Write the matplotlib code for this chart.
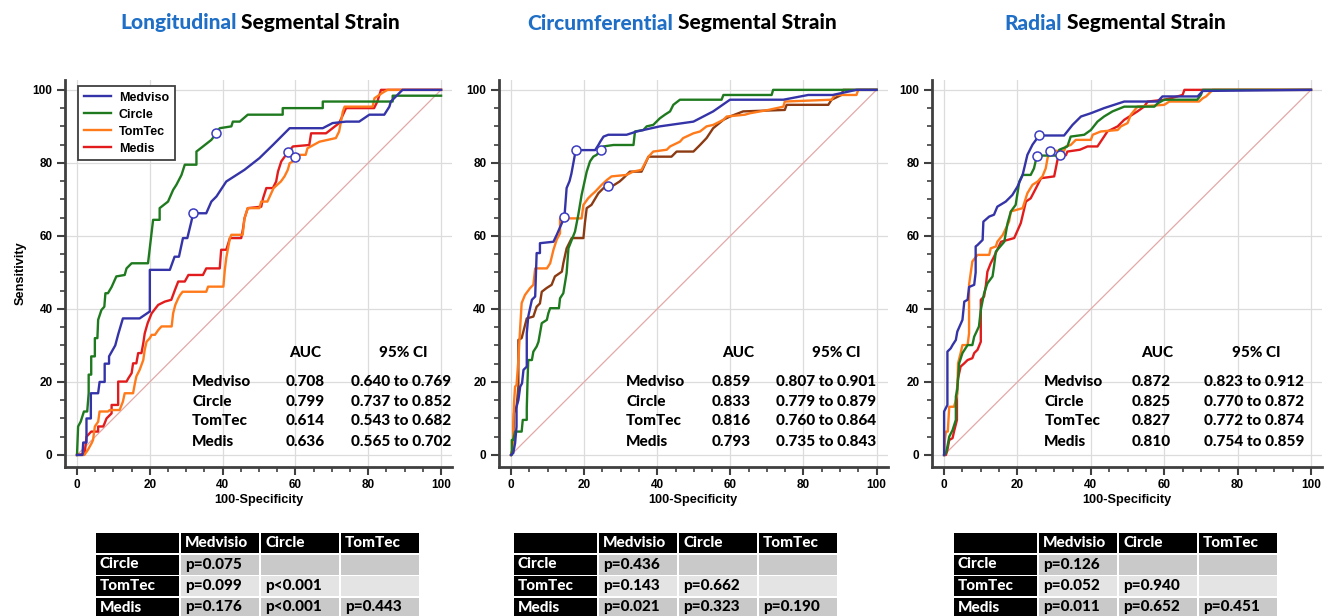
import matplotlib
matplotlib.use("Agg")
import matplotlib.pyplot as plt
from matplotlib.patches import Rectangle
from matplotlib.ticker import MultipleLocator

# ---------------------------------------------------------------------------
# data
# ---------------------------------------------------------------------------
METHODS = ["Medviso", "Circle", "TomTec", "Medis"]
TITLE_FIRST = ["Longitudinal", "Circumferential", "Radial"]
TITLE_REST = " Segmental Strain"

AUC = [
    ["0.708", "0.799", "0.614", "0.636"],
    ["0.859", "0.833", "0.816", "0.793"],
    ["0.872", "0.825", "0.827", "0.810"],
]
CI = [
    ["0.640 to 0.769", "0.737 to 0.852", "0.543 to 0.682", "0.565 to 0.702"],
    ["0.807 to 0.901", "0.779 to 0.879", "0.760 to 0.864", "0.735 to 0.843"],
    ["0.823 to 0.912", "0.770 to 0.872", "0.772 to 0.874", "0.754 to 0.859"],
]

TABLE_COLS = ["Medvisio", "Circle", "TomTec"]
TABLE_ROWS = ["Circle", "TomTec", "Medis"]
LONG_P = [["p=0.075", "", ""], ["p=0.099", "p<0.001", ""], ["p=0.176", "p<0.001", "p=0.443"]]
CIRC_P = [["p=0.436", "", ""], ["p=0.143", "p=0.662", ""], ["p=0.021", "p=0.323", "p=0.190"]]
RAD_P = [["p=0.126", "", ""], ["p=0.052", "p=0.940", ""], ["p=0.011", "p=0.652", "p=0.451"]]

# ROC curves, 100-specificity (x) vs sensitivity (y)
long_medviso_x = [0, 1.5, 1.7, 2.6, 2.6, 3.8, 3.8, 5.8, 6.2, 7.6, 7.6, 8.8, 8.8, 10.5, 11.3, 12.6, 17.2, 20, 20,
                  25.5, 26.8, 28, 29.1, 30.3, 31.4, 31.9, 35.5, 36.9, 38.3, 41, 46, 50.1, 53.8, 58.4, 67.5, 70.2,
                  73.9, 77.5, 80.3, 84.4, 85.8, 86.2, 89.4, 100]
long_medviso_y = [0, 0, 3.4, 3.4, 10, 10, 16.9, 16.9, 20, 20, 25, 25, 27, 30, 33, 37.4, 37.4, 39.3, 50.7,
                  50.7, 54.3, 54.3, 59.4, 59.4, 63.9, 66.2, 66.2, 69.4, 70.8, 74.9, 78.1, 81.3, 84.9, 89.5, 89.5, 90.9,
                  91.3, 91.3, 93.2, 93.2, 95.4, 96.8, 100, 100]
long_circle_x = [0, 0.3, 1, 1.9, 2.8, 3.2, 3.2, 3.9, 3.9, 4.9, 4.9, 5.6, 5.8, 6.7, 7.5, 7.8, 8.5, 9.5, 10.8, 13.1,
                 13.6, 15, 19.5, 20.9, 22.7, 22.7, 25, 26.4, 27.3, 28.7, 29.6, 32.8, 32.8, 34.6, 36.9, 38.3, 39.2,
                 42.4, 42.8, 44.7, 46.9, 56.5, 56.5, 67.5, 67.5, 86.7, 86.7, 100]
long_circle_y = [0, 7.8, 9.1, 11.9, 11.9, 16.9, 22, 22, 27, 27, 32, 32, 37, 39.7, 40.6, 44.3, 44.3, 46, 48.9, 49.3,
                 51.1, 52.5, 52.5, 64.4, 64.4, 67.6, 69.4, 72.6, 74, 76.7, 79.5, 79.5, 83.1, 84.5, 86.3, 88.1, 89.5,
                 90, 91.3, 91.3, 93.2, 93.2, 95, 95, 96.8, 96.8, 98.4, 98.4]
long_tomtec_x = [0, 2, 3, 4, 4.4, 4.9, 5.8, 6.2, 8.5, 9, 11.7, 12.6, 13.1, 15.4, 15.9, 16.3, 17.2, 18.2, 18.6, 19.1,
                 20, 20.5, 21.4, 22.3, 23.2, 26, 26.4, 27, 27.8, 28.3, 29, 35.5, 36, 40.2, 40.6, 41, 42, 42.4, 45.5,
                 46, 46.9, 50.1, 50.6, 52.3, 54, 56, 57, 57.9, 58.4, 59.3, 60.2, 62.8, 63.3, 66.6, 71.1, 72, 73,
                 73.5, 81.2, 81.7, 83, 84.4, 85.3, 100]
long_tomtec_y = [0, 0, 1.4, 3.2, 4.1, 7.8, 9.1, 11.9, 11.9, 12.3, 12.3, 14.6, 16.9, 16.9, 19.6, 21.5, 23.3, 26, 28.8,
                 31, 32, 32.9, 32.9, 34.2, 35.2, 35.2, 38.8, 41.1, 42.9, 43.8, 44.7, 44.7, 46.1, 46.1, 50.7, 54,
                 59.4, 60.3, 60.3, 64.8, 67.6, 67.6, 69.4, 69.4, 73.1, 74.9, 76.3, 78.1, 79.9, 80.4, 82.2, 82.2, 84,
                 85.8, 86.8, 88.6, 94, 95.4, 95.4, 97.7, 98.6, 99.5, 100, 100]
long_medis_x = [0, 2.1, 2.6, 3.9, 5.8, 5.8, 7.2, 7.6, 8.1, 9.5, 9.5, 11.3, 11.3, 13.6, 14.1, 15, 15.4, 16.3, 16.8,
                17.7, 18.2, 18.6, 19.4, 20.5, 22.3, 24.1, 25.9, 26.9, 27.8, 29.6, 30.6, 34.6, 35.5, 39.2, 39.6, 41,
                42, 45.1, 45.6, 46, 46.9, 50.6, 51.1, 52, 53.8, 54.7, 55.2, 56.1, 57.4, 59.3, 63.8, 64.3, 68.4, 72,
                73.9, 81.6, 82.5, 83.5, 100]
long_medis_y = [0, 0.3, 5, 6.4, 6.4, 7.8, 7.8, 8.7, 10, 11.4, 13.7, 13.7, 20.1, 20.1, 21, 22.4, 25.1, 25.1, 27.9,
                27.9, 30.6, 33.3, 36.1, 38.8, 41.1, 42, 42.5, 45.2, 47.5, 47.5, 49.3, 49.3, 51.1, 51.1, 56.2, 56.2,
                59.4, 59.4, 62, 64.8, 67.6, 68, 70.3, 73.1, 73.1, 74.9, 77.6, 80.4, 82.2, 84.5, 84.9, 88.1, 88.1,
                90.9, 95, 95, 96.8, 100, 100]

circ_medviso_x = [0, 0.6, 1.1, 1.5, 1.5, 2, 2.5, 3, 3.4, 4.3, 4.3, 4.7, 5.7, 6.6, 7, 7.9, 7.9, 11.6, 12.5, 14.6,
                  15.2, 16, 16.5, 17.7, 23, 23.9, 24.4, 25.3, 26.6, 31.6, 34.4, 40.7, 49.9, 55.3, 59.9, 74.5, 81.3,
                  88, 94.5, 100]
circ_medviso_y = [0, 0.5, 3.2, 7.8, 13.2, 15, 18.7, 19.6, 23.3, 24.2, 33.3, 37.9, 42.5, 43.4, 55.3, 55.3, 58, 58.4,
                  60.3, 65.1, 73.1, 75, 77, 83.5, 83.5, 84.9, 85.8, 87.2, 87.7, 87.7, 88.6, 90, 91.3, 94.1, 97.3,
                  97.3, 98.6, 98.6, 100, 100]
circ_circle_x = [0, 0.2, 0.2, 0.6, 1.1, 2.9, 3.2, 4.3, 4.3, 4.5, 4.7, 5.7, 6.1, 7, 7.5, 8.4, 9.8, 10.2, 10.7, 13.1,
                 13.4, 14.3, 15.2, 15.7, 17.5, 18.4, 19.3, 20.7, 21.6, 22.5, 23.4, 24.6, 25.3, 28, 33.5, 33.9, 36.2,
                 37.1, 38.9, 40.7, 42.1, 43.5, 44.4, 46.2, 57.6, 58.1, 71.3, 71.7, 100]
circ_circle_y = [0, 0, 4.1, 4.1, 6.4, 6.4, 9.6, 9.6, 12.8, 20, 26, 26, 28.3, 29.7, 31, 36.1, 37, 38.8, 40.2, 40.2,
                 42.9, 44.3, 49.8, 56.6, 61.2, 65.8, 71.2, 77.6, 80.4, 81.7, 82.2, 83.5, 84.5, 84.9, 84.9, 88.6,
                 89, 90, 90.4, 92.2, 93.2, 94.1, 95.9, 97.3, 97.3, 98.6, 98.6, 100, 100]
circ_tomtec_x = [0, 0.6, 0.6, 0.8, 1.1, 1.5, 2, 2.5, 2.9, 3.8, 5.2, 6.1, 6.6, 9.8, 10.7, 11.6, 12.5, 13.4, 13.4,
                 19.3, 19.8, 21.1, 22, 23, 24.8, 26.2, 27.5, 31.6, 33.4, 35.7, 37.6, 38.9, 42.6, 43.5, 46.2, 47.1,
                 49.9, 51.7, 53.5, 55.3, 58.1, 59, 64, 65.4, 70.4, 74.5, 74.9, 87.7, 88.6, 94.5, 95, 100]
circ_tomtec_y = [0, 2.3, 8, 14.2, 18.7, 19.2, 26, 35, 41.6, 43.8, 45.7, 46.6, 51.1, 51.1, 52.5, 56.2, 59, 60.7,
                 64.8, 64.8, 68.5, 70.3, 71.2, 72.1, 74, 75.3, 76.3, 76.7, 77.6, 78.1, 81.7, 83.1, 83.6, 84.5, 85.8,
                 86.8, 88.1, 88.6, 90, 90.4, 91.8, 92.7, 93.2, 93.6, 94.5, 95.4, 96.8, 97.3, 98.6, 98.6, 100, 100]
circ_medis_x = [0, 0.6, 0.8, 1.5, 2, 2, 2.9, 4.3, 6.1, 7, 7.9, 8.4, 9.7, 11.1, 12, 13.9, 14.3, 15.2, 16.6, 19.8,
                20.2, 20.7, 22, 23.9, 25.3, 27.5, 29.7, 30.7, 32.5, 35.7, 37.6, 43.9, 45.3, 49.9, 51.7, 53.5, 55.3,
                58.1, 59.9, 63.5, 74.9, 75.4, 86.8, 87.7, 90.4, 90.9, 100]
circ_medis_y = [0, 2.3, 11.4, 13.2, 18.7, 31.5, 32, 37.4, 37.9, 40.6, 41.5, 44.7, 45.7, 46.6, 48.9, 50.2, 52.5,
                56.6, 59.4, 59.4, 63.5, 67.6, 68.5, 71.7, 73.1, 73.5, 74.9, 75.8, 77.6, 77.6, 81.7, 81.7, 83.1,
                83.1, 84.9, 86.8, 89.5, 91.8, 92.7, 94.1, 94.5, 95.9, 95.9, 97.3, 98.6, 100, 100]

rad_medviso_x = [0, 0, 0.9, 0.9, 1.8, 2.3, 3.2, 3.6, 5, 5.5, 6.4, 6.8, 8.2, 8.6, 8.6, 9.1, 10.5, 10.7, 12.3, 13.6,
                 14.5, 16.8, 18.6, 20, 21.4, 22.7, 24.1, 25.9, 32.7, 35, 37.3, 40, 43.6, 49.1, 58.2, 59.5, 69.1,
                 70.5, 100]
rad_medviso_y = [0, 11.9, 13.7, 28.3, 29.2, 30.1, 31.5, 33.8, 37, 42, 42.5, 46, 46.6, 50, 57.1, 57.5, 58.9, 63.9,
                 65.3, 65.8, 68, 69.4, 71.2, 73.5, 76.7, 82.2, 85, 87.5, 87.5, 90.4, 92.7, 93.6, 95, 96.8, 96.8,
                 98.2, 98.2, 99.7, 100]
rad_circle_x = [0, 0.5, 0.9, 1.4, 2.3, 3.2, 3.2, 3.6, 4.1, 5, 6.4, 7.7, 8.2, 9.5, 10, 10.9, 11.8, 13.2, 13.6, 14.1,
                16.4, 17.3, 18.2, 19.5, 20.5, 21.4, 23.6, 24.5, 25.3, 30.9, 31.4, 33.6, 34.5, 38.2, 40, 41.8, 43.6,
                45.9, 49.1, 57.3, 58.2, 60, 69, 70, 70.5, 100]
rad_circle_y = [0, 0.5, 2.3, 5, 6.8, 9.6, 16, 18, 25.1, 27.9, 30.1, 30.1, 32.4, 35.2, 39.7, 44.3, 47, 48.9, 51.6,
                55.7, 58.4, 63.5, 66.7, 68.5, 74.9, 76.7, 76.7, 78.5, 82, 82, 83.6, 84.5, 87.2, 87.7, 89, 91.3,
                92.7, 94.1, 95.4, 95.4, 96.3, 97.3, 97.3, 98.6, 100, 100]
rad_tomtec_x = [0, 0.2, 0.5, 1, 1.4, 2.7, 3.2, 3.6, 3.8, 4.5, 5, 6.4, 6.8, 6.8, 7.3, 7.7, 9.1, 12.3, 12.7, 14.1,
                14.5, 16, 17.7, 18.2, 21.4, 22.7, 24.1, 25.5, 26.8, 27.7, 28.2, 28.9, 32.7, 33.2, 34.5, 35.9, 40,
                40.5, 42.7, 47.3, 48.2, 50, 50.9, 52.7, 60, 61.4, 69.5, 70.5, 71.4, 72.3, 73.2, 100]
rad_tomtec_y = [0, 4.1, 6.4, 6.4, 13.2, 13.2, 15, 16.9, 25.1, 27.9, 30.1, 30.1, 33.3, 46.6, 50.2, 53, 54.8, 54.8,
                56.6, 57.1, 58.4, 60.3, 63.9, 66.7, 67.6, 71.7, 74, 74.9, 76.3, 78.5, 81.3, 83.3, 83.3, 84.5, 84.9,
                86.3, 86.3, 87.7, 88.6, 89, 90, 90.9, 93.2, 95.4, 95.9, 96.8, 96.8, 97.7, 98.2, 99.1, 100, 100]
rad_medis_x = [0, 0.5, 0.9, 1.4, 2.3, 2.7, 3.5, 3.5, 3.8, 4.5, 5.5, 6.4, 7.7, 8.2, 9.1, 10, 10, 10.9, 11.4, 11.8,
               12.7, 13.6, 14.5, 15.5, 17.3, 19.1, 19.5, 20.9, 22.3, 23.6, 25, 26.4, 30, 30.9, 31.5, 33.2, 33.6, 37,
               39.1, 41.8, 43.6, 44.5, 47.3, 49.1, 52.7, 54.5, 55.5, 60, 61.8, 65, 65.5, 100]
rad_medis_y = [0, 0, 1.4, 4.1, 4.6, 6.4, 9.6, 17.8, 21, 24.2, 25.1, 26, 26.5, 27.9, 28.8, 31, 42.5, 43.4, 46.6,
               50.2, 52.5, 54.3, 56.2, 58.4, 58.9, 59.4, 60.3, 63.5, 69.4, 70.3, 73, 75.8, 76.3, 80.8, 82.1, 82.1,
               83.1, 83.6, 84.5, 84.5, 87.2, 88.6, 90, 91.8, 94.1, 95.4, 96.8, 97.3, 97.7, 98.6, 100, 100]

# optimal cut-off points (Youden) marked with open circles
long_cut_x = [31.9, 38.3, 57.9, 60.0]
long_cut_y = [66.2, 88.1, 83.1, 81.6]
circ_cut_x = [14.6, 17.7, 24.6, 26.4]
circ_cut_y = [65.1, 83.5, 83.5, 73.7]
rad_cut_x = [25.9, 25.3, 28.9, 31.5]
rad_cut_y = [87.5, 82.0, 83.3, 82.1]

CURVES = [
    [(long_medviso_x, long_medviso_y), (long_circle_x, long_circle_y),
     (long_tomtec_x, long_tomtec_y), (long_medis_x, long_medis_y)],
    [(circ_medviso_x, circ_medviso_y), (circ_circle_x, circ_circle_y),
     (circ_tomtec_x, circ_tomtec_y), (circ_medis_x, circ_medis_y)],
    [(rad_medviso_x, rad_medviso_y), (rad_circle_x, rad_circle_y),
     (rad_tomtec_x, rad_tomtec_y), (rad_medis_x, rad_medis_y)],
]
CUTS = [(long_cut_x, long_cut_y), (circ_cut_x, circ_cut_y), (rad_cut_x, rad_cut_y)]
PVALS = [LONG_P, CIRC_P, RAD_P]

# ---------------------------------------------------------------------------
# style
# ---------------------------------------------------------------------------
CAL = ["Lato", "DejaVu Sans"]
ARIAL = ["Liberation Sans", "DejaVu Sans"]
CAL_W = 900
COLORS = ["#3434a8", "#1f7a1f", "#ff7a1a", "#e21c1c"]
MEDIS_CIRC = "#8b3a12"
TITLE_BLUE = "#1f6fc6"
SPINE = "#404040"

W, H = 1333, 616
AX_LEFT = [65, 499, 932]          # px
AX_WIDTH = [387, 388.5, 390]
AX_TOP, AX_BOTTOM = 80, 467
TITLE_X = [120, 527, 1004]
TABLE_X = [95, 513, 953]
COL_W = [85, 80, 80, 80]
ROW_TOP = [533, 554.5, 576, 597.5]
ROW_H = 20

# column positions of the AUC block (data units)
AUC_COLS = [(31.6, 57.4, 75.3, 62.6, 89.6), (31.5, 55, 72.5, 62, 89), (27.3, 51, 70.9, 58, 85)]
AUC_ROWS_Y = [20.0, 14.6, 9.2, 3.6]
AUC_HEAD_Y = 28.0
AUC_FS = 11

plt.rcParams.update({"font.family": ARIAL, "font.weight": "bold", "axes.labelweight": "bold"})

fig = plt.figure(figsize=(W / 100, H / 100), dpi=100)
over = fig.add_axes([0, 0, 1, 1])
over.set_xlim(0, W)
over.set_ylim(H, 0)
over.axis("off")

for p in range(3):
    ax = fig.add_axes([AX_LEFT[p] / W, (H - AX_BOTTOM) / H, AX_WIDTH[p] / W, (AX_BOTTOM - AX_TOP) / H])
    ax.set_xlim(-3.3, 103)
    ax.set_ylim(-3.3, 102.7)
    for s in ["top", "right"]:
        ax.spines[s].set_visible(False)
    for s in ["left", "bottom"]:
        ax.spines[s].set_color(SPINE)
        ax.spines[s].set_linewidth(2)
    ax.xaxis.set_major_locator(MultipleLocator(20))
    ax.yaxis.set_major_locator(MultipleLocator(20))
    ax.xaxis.set_minor_locator(MultipleLocator(5))
    ax.yaxis.set_minor_locator(MultipleLocator(5))
    ax.tick_params(which="major", length=6, width=1.5, color=SPINE, labelsize=8.5, pad=3)
    ax.tick_params(which="minor", length=3.5, width=1.2, color=SPINE)
    ax.grid(True, which="major", color="#dcdcdc", lw=0.9, zorder=0)
    ax.set_axisbelow(True)
    ax.plot([0, 100], [0, 100], color="#e3a8a8", lw=0.9, zorder=1)

    for i, (cx, cy) in enumerate(CURVES[p]):
        col = COLORS[i]
        if p == 1 and i == 3:
            col = MEDIS_CIRC
        ax.plot(cx, cy, color=col, lw=1.7, label=METHODS[i], zorder=3 + (3 - i) * 0.1)
    ax.plot(CUTS[p][0], CUTS[p][1], "o", ms=6.5, mfc="white", mec="#3c3cc0", mew=1.1, zorder=5)

    xs = AUC_COLS[p]
    kw = dict(family=CAL, fontweight=CAL_W, fontsize=AUC_FS, va="center")
    ax.text(xs[3], AUC_HEAD_Y, "AUC", ha="center", **kw)
    ax.text(xs[4], AUC_HEAD_Y, "95% CI", ha="center", **kw)
    for r in range(4):
        ax.text(xs[0], AUC_ROWS_Y[r], METHODS[r], ha="left", **kw)
        ax.text(xs[1], AUC_ROWS_Y[r], AUC[p][r], ha="left", **kw)
        ax.text(xs[2], AUC_ROWS_Y[r], CI[p][r], ha="left", **kw)

    ax.set_xlabel("100-Specificity", fontsize=9.2, labelpad=2)
    if p == 0:
        ax.set_ylabel("Sensitivity", fontsize=9.2, labelpad=4)
        leg = ax.legend(loc="upper left", bbox_to_anchor=(0.034, 0.984), borderaxespad=0,
                        fancybox=False, framealpha=1, edgecolor=SPINE, fontsize=9,
                        handlelength=2.2, handletextpad=0.6, labelspacing=0.4, borderpad=0.45)
        leg.get_frame().set_linewidth(1.3)

    # title, two colours
    t1 = over.text(TITLE_X[p], 23, TITLE_FIRST[p], family=CAL, fontweight=CAL_W, fontsize=15,
                   color=TITLE_BLUE, ha="left", va="center")
    over.annotate(TITLE_REST, xy=(1, 0), xycoords=t1, family=CAL, fontweight=CAL_W, fontsize=15,
                  color="black", ha="left", va="bottom")

    # pairwise comparison table
    x0 = TABLE_X[p]
    edges = [x0]
    for w in COL_W:
        edges.append(edges[-1] + w)
    for r in range(4):
        for c in range(4):
            if r == 0 or c == 0:
                fc = "black"
            else:
                fc = "#e4e4e4" if r == 2 else "#c9c9c9"
            over.add_patch(Rectangle((edges[c] + 1, ROW_TOP[r]), COL_W[c] - 2, ROW_H, fc=fc, ec="none"))
            if r == 0 and c > 0:
                txt, tc = TABLE_COLS[c - 1], "white"
            elif c == 0 and r > 0:
                txt, tc = TABLE_ROWS[r - 1], "white"
            elif r > 0 and c > 0:
                txt, tc = PVALS[p][r - 1][c - 1], "black"
            else:
                txt, tc = "", "white"
            over.text(edges[c] + 5, ROW_TOP[r] + ROW_H / 2, txt, family=CAL, fontweight=CAL_W,
                      fontsize=11, color=tc, ha="left", va="center")

fig.savefig("out.png", dpi=100)
